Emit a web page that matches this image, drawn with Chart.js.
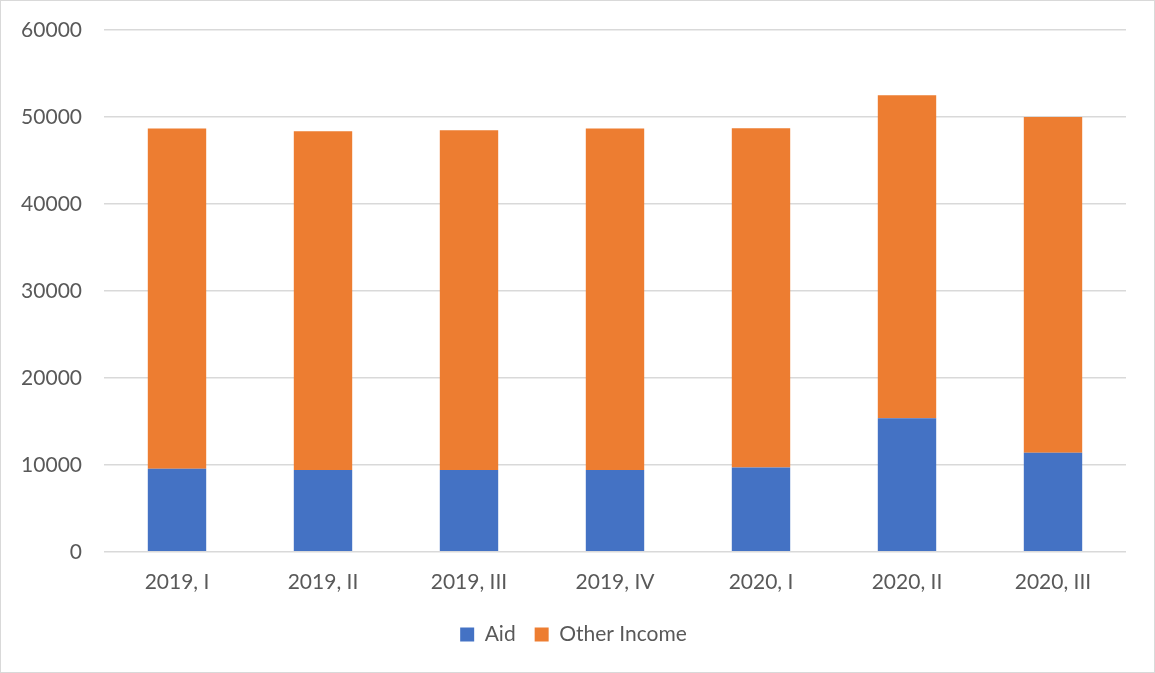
<!DOCTYPE html>
<html><head><meta charset="utf-8">
<script src="https://cdn.jsdelivr.net/npm/chart.js@4/dist/chart.umd.min.js"></script>
<style>
html,body{margin:0;padding:0;background:#fff;}
#wrap{width:1155px;height:673px;box-sizing:border-box;border:1px solid #d9d9d9;position:relative;}
canvas{display:block;}
</style></head><body>
<div id="wrap"><canvas id="c" width="1153" height="671"></canvas></div>
<script>
const categories = ["2019, I","2019, II","2019, III","2019, IV","2020, I","2020, II","2020, III"];
const aid = [9540, 9420, 9420, 9420, 9690, 15350, 11380];
const otherIncome = [39120, 38930, 39040, 39240, 39010, 37150, 38620];
const yTicks = [0, 10000, 20000, 30000, 40000, 50000, 60000];

Chart.defaults.font.family = "Lato, 'Liberation Sans', sans-serif";
Chart.defaults.color = "#595959";

new Chart(document.getElementById('c'), {
  type: 'bar',
  data: {
    labels: categories,
    datasets: [
      {label: 'Aid', data: aid, backgroundColor: '#4472c4', barPercentage: 0.4, categoryPercentage: 1},
      {label: 'Other Income', data: otherIncome, backgroundColor: '#ed7d31', barPercentage: 0.4, categoryPercentage: 1}
    ]
  },
  options: {
    responsive: false,
    animation: false,
    layout: {padding: {left: 20, right: 28, top: 29, bottom: 17}},
    plugins: {
      legend: {
        position: 'bottom',
        labels: {boxWidth: 14, boxHeight: 14, font: {size: 21}, color: '#595959', padding: 19}
      },
      tooltip: {enabled: false}
    },
    scales: {
      x: {
        stacked: true,
        grid: {display: false},
        border: {display: false},
        ticks: {font: {size: 21}, color: '#595959', padding: 10}
      },
      y: {
        stacked: true,
        min: 0, max: 60000,
        afterBuildTicks: (s) => { s.ticks = yTicks.map(v => ({value: v})); },
        afterFit: (s) => { s.width = 83; s.paddingTop = 12; s.paddingBottom = 12; },
        grid: {color: '#d9d9d9', lineWidth: 1.5, drawTicks: false},
        border: {display: false},
        ticks: {font: {size: 21}, color: '#595959', padding: 22, callback: v => String(v)}
      }
    }
  }
});
</script>
</body></html>
